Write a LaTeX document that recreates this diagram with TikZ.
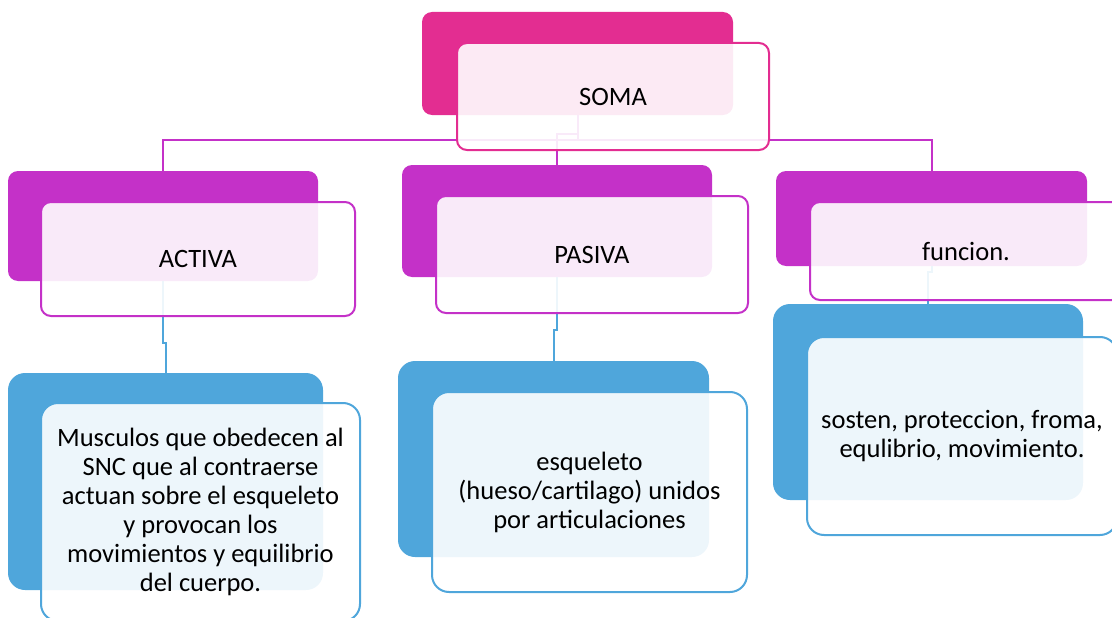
\documentclass[tikz,border=0pt]{standalone}
\usepackage{fontspec}
\setmainfont{Carlito}
\usetikzlibrary{positioning}
\definecolor{somapink}{HTML}{E32D91}
\definecolor{levelpurple}{HTML}{C431C8}
\definecolor{levelblue}{HTML}{4FA6DB}
\tikzset{
  backbox/.style={rectangle,rounded corners=10pt,inner sep=0pt,fill=#1},
  frontbox/.style={rectangle,rounded corners=10pt,inner sep=0pt,draw=#1,line width=2pt,
    fill=white,fill opacity=0.9,text opacity=1,align=center,
    font=\fontsize{26.5}{29}\selectfont},
  purplelink/.style={draw=levelpurple,line width=2pt},
  bluelink/.style={draw=levelblue,line width=2pt}
}

\begin{document}
\begin{tikzpicture}[x=1pt,y=-1pt]

    % -- Page size of the reference --
    \useasboundingbox (0,0) rectangle (1112,618);
    \clip (0,0) rectangle (1112,618);

    % -- Back boxes (coloured) --
    \node[backbox=somapink,minimum width=311pt,minimum height=103pt] (somaB) at (577.5,63.5) {};
    \node[backbox=levelpurple,minimum width=310pt,minimum height=110pt] (activaB) at (163,226) {};
    \node[backbox=levelpurple,minimum width=310pt,minimum height=112pt] (pasivaB) at (557,221) {};
    \node[backbox=levelpurple,minimum width=311pt,minimum height=95pt] (funcionB) at (931.5,218.5) {};
    \node[backbox=levelblue,rounded corners=17pt,minimum width=315pt,minimum height=217pt] (musB) at (165.5,481.5) {};
    \node[backbox=levelblue,rounded corners=17pt,minimum width=311pt,minimum height=196pt] (esqB) at (553.5,459) {};
    \node[backbox=levelblue,rounded corners=17pt,minimum width=310pt,minimum height=196pt] (solB) at (928,402) {};

    % -- Connectors (under the front boxes) --
    \draw[purplelink] (somaB.south) -- ++(0,19) -| (pasivaB.north);
    \draw[purplelink] (somaB.south) -- ++(0,25) coordinate (bus);
    \draw[purplelink] (bus) -| (activaB.north);
    \draw[purplelink] (bus) -| (funcionB.north);
    \draw[bluelink] (activaB.south) -- ++(0,62) -| (musB.north);
    \draw[bluelink] (pasivaB.south) -- ++(0,53) -| (esqB.north);
    \draw[bluelink] (funcionB.south) -- ++(0,6) -| (solB.north);

    % -- Front boxes with the texts --
    \node[frontbox=somapink,minimum width=312pt,minimum height=107pt] (somaF) at (613,96.5) {SOMA};
    \node[frontbox=levelpurple,minimum width=314pt,minimum height=114pt] (activaF) at (198,259) {ACTIVA};
    \node[frontbox=levelpurple,minimum width=312pt,minimum height=117pt] (pasivaF) at (592,254.5) {PASIVA};
    \node[frontbox=levelpurple,minimum width=312pt,minimum height=98pt] (funcionF) at (966,251) {funcion.};
    \node[frontbox=levelblue,rounded corners=17pt,minimum width=319pt,minimum height=218pt] (musF) at (200.5,512)
      {Musculos que obedecen al\\SNC que al contraerse\\actuan sobre el esqueleto\\y provocan los\\movimientos y equilibrio\\del cuerpo.};
    \node[frontbox=levelblue,rounded corners=17pt,minimum width=315pt,minimum height=200pt] (esqF) at (589.5,492)
      {esqueleto\\(hueso/cartilago) unidos\\por articulaciones};
    \node[frontbox=levelblue,rounded corners=17pt,minimum width=310pt,minimum height=198pt] (solF) at (962,436)
      {sosten, proteccion, froma,\\equlibrio, movimiento.};

\end{tikzpicture}
\end{document}
